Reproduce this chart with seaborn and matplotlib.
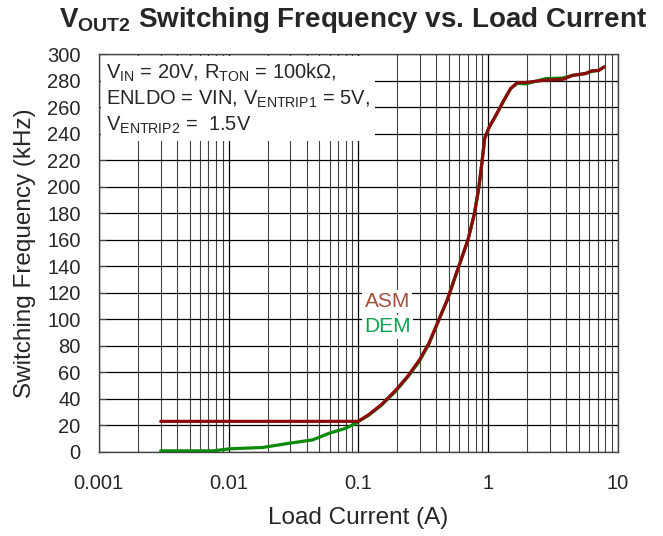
import numpy as np
import pandas as pd
import matplotlib
matplotlib.use('Agg')
import matplotlib.pyplot as plt
from matplotlib.ticker import LogLocator, NullFormatter, FixedLocator
import seaborn as sns

# Data
asm_current = [0.003, 0.01, 0.03, 0.06, 0.1, 0.12, 0.15, 0.195, 0.24, 0.294, 0.35,
               0.396, 0.44, 0.486, 0.58, 0.70, 0.785, 0.85, 0.90, 0.94, 1.02, 1.15,
               1.32, 1.49, 1.68, 1.94, 2.77, 3.77, 4.48, 5.64, 6.3, 7.1, 7.85]
asm_freq = [23, 23, 23, 23, 23, 28, 35.5, 46.7, 57, 69, 82,
            94.5, 105, 115, 137, 160, 180, 200, 220, 236.4, 245, 254,
            265, 274, 278.6, 278.6, 280.4, 281, 284, 285.4, 287.4, 287.7, 290.4]

dem_current = [0.003, 0.0076, 0.0102, 0.0183, 0.0294, 0.0443, 0.0596, 0.080, 0.096, 0.1,
               0.12, 0.15, 0.195, 0.24, 0.294, 0.35, 0.396, 0.44, 0.486, 0.58, 0.70,
               0.785, 0.85, 0.90, 0.94, 1.02, 1.15, 1.32, 1.49, 1.68, 1.94, 2.77, 3.77,
               4.48, 5.64, 6.3, 7.1, 7.85]
dem_freq = [0.75, 0.75, 2.3, 3.3, 6.5, 9, 14, 17.8, 21.6, 23,
            27.6, 35, 46, 56.5, 68, 81.5, 94, 105, 115, 137, 160,
            180, 200, 220, 236.4, 245, 254, 265, 274, 278, 277.5, 281.5, 282,
            284, 285.4, 287, 287.7, 290.4]

x_ticks = [0.001, 0.01, 0.1, 1, 10]
x_tick_labels = ['0.001', '0.01', '0.1', '1', '10']
y_ticks = list(range(0, 301, 20))

df = pd.concat([
    pd.DataFrame({'current': dem_current, 'freq': dem_freq, 'mode': 'DEM'}),
    pd.DataFrame({'current': asm_current, 'freq': asm_freq, 'mode': 'ASM'}),
])

sns.set_style('white')
plt.rcParams['font.family'] = ['Liberation Sans', 'DejaVu Sans']
plt.rcParams['mathtext.fontset'] = 'custom'
plt.rcParams['mathtext.rm'] = 'Liberation Sans'

fig = plt.figure(figsize=(6.63, 5.36), dpi=100)
ax = fig.add_axes([0.149, 0.157, 0.783, 0.742])

sns.lineplot(data=df, x='current', y='freq', hue='mode', hue_order=['DEM', 'ASM'],
             palette={'DEM': '#0a8a0a', 'ASM': '#8b0a0a'}, sort=False,
             linewidth=2.3, legend=False, ax=ax, zorder=3)

ax.set_xscale('log')
ax.set_xlim(0.001, 10)
ax.set_ylim(0, 300)
ax.xaxis.set_major_locator(FixedLocator(x_ticks))
ax.set_xticklabels(x_tick_labels)
ax.xaxis.set_minor_locator(LogLocator(base=10, subs=np.arange(2, 10)))
ax.xaxis.set_minor_formatter(NullFormatter())
ax.set_yticks(y_ticks)

ax.grid(True, which='major', color='black', linewidth=0.9)
ax.grid(True, which='minor', axis='x', color='#444444', linewidth=0.8)
for s in ax.spines.values():
    s.set_color('#444444')
    s.set_linewidth(1.0)

ax.tick_params(axis='both', which='both', direction='in', length=0)
ax.tick_params(axis='y', which='major', labelsize=14.5, left=True, length=5,
               color='#444444', pad=13)
ax.tick_params(axis='x', which='major', labelsize=14.5, pad=16)
ax.set_xlabel('Load Current (A)', fontsize=17.5, labelpad=10)
ax.set_ylabel('Switching Frequency (kHz)', fontsize=17.5, labelpad=8)

fig.text(0.532, 0.962, r'V$_{\mathregular{OUT2}}$ Switching Frequency vs. Load Current',
         fontsize=20, fontweight='bold', ha='center', va='center')

note = ('V$_{\\mathregular{IN}}$ = 20V, R$_{\\mathregular{TON}}$ = 100kΩ,\n'
        'ENLDO = VIN, V$_{\\mathregular{ENTRIP1}}$ = 5V,\n'
        'V$_{\\mathregular{ENTRIP2}}$ =  1.5V')
ax.text(0.013, 0.982, note, transform=ax.transAxes, fontsize=14.5, va='top', ha='left',
        linespacing=1.3, zorder=5,
        bbox=dict(boxstyle='square,pad=0.25', fc='white', ec='none'))

ax.text(0.512, 0.377, 'ASM', transform=ax.transAxes, fontsize=15, color='#a0503c',
        ha='left', va='center', zorder=5,
        bbox=dict(boxstyle='square,pad=0.1', fc='white', ec='none'))
ax.text(0.512, 0.314, 'DEM', transform=ax.transAxes, fontsize=15, color='#10a050',
        ha='left', va='center', zorder=5,
        bbox=dict(boxstyle='square,pad=0.1', fc='white', ec='none'))

fig.savefig('out.png', dpi=100)
